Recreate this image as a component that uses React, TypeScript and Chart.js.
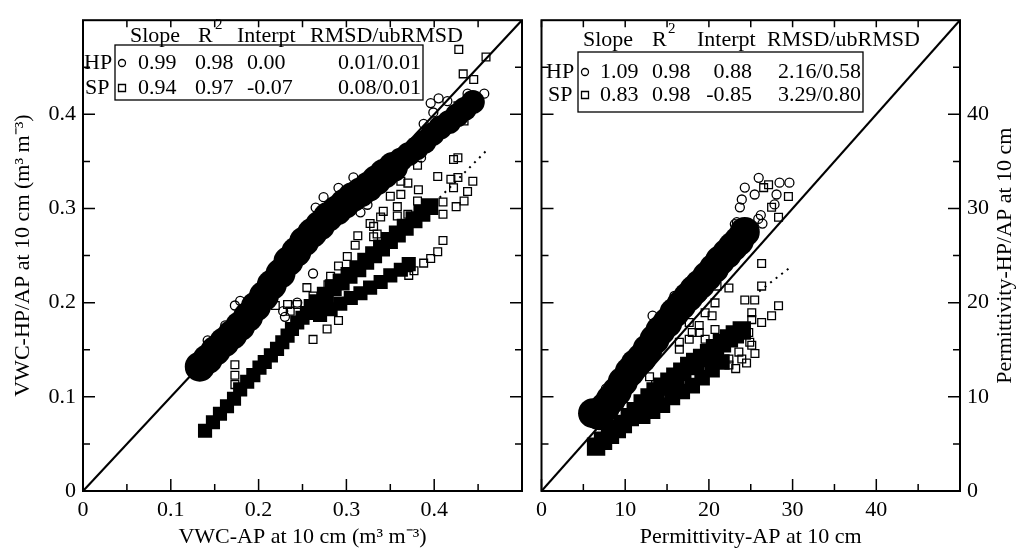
import React, { useEffect, useRef } from "react";
import { Chart, registerables } from "chart.js";
Chart.register(...registerables);

const SERIF = '"Liberation Serif", "Times New Roman", Times, serif';
const FS = 22;

// ---------------- data ----------------
// Left panel: VWC (m3 m-3)
const leftHpDenseLower: [number, number][] = [
  [0.133, 0.132], [0.142, 0.140], [0.151, 0.149], [0.161, 0.158], [0.170, 0.166], [0.179, 0.175],
  [0.188, 0.185], [0.197, 0.196], [0.206, 0.207], [0.215, 0.219], [0.225, 0.231], [0.234, 0.244],
  [0.243, 0.254], [0.252, 0.265], [0.261, 0.274], [0.270, 0.282], [0.279, 0.291], [0.289, 0.298],
  [0.298, 0.305], [0.307, 0.312], [0.316, 0.317], [0.325, 0.323], [0.334, 0.330], [0.343, 0.337],
  [0.353, 0.344],
];
const leftHpDenseUpper: [number, number][] = [
  [0.362, 0.352], [0.371, 0.358], [0.380, 0.364], [0.389, 0.371], [0.398, 0.379],
  [0.407, 0.386], [0.417, 0.392], [0.426, 0.399], [0.435, 0.406], [0.444, 0.413],
];
const leftSpDenseLow: [number, number][] = [
  [0.139, 0.064], [0.148, 0.073], [0.156, 0.082], [0.164, 0.090], [0.172, 0.098], [0.179, 0.108],
  [0.187, 0.116], [0.194, 0.123], [0.201, 0.131], [0.207, 0.137], [0.214, 0.144], [0.221, 0.151],
  [0.227, 0.158], [0.233, 0.165], [0.238, 0.172], [0.244, 0.179], [0.250, 0.184], [0.255, 0.189],
];
const leftSpDenseMid: [number, number][] = [
  [0.261, 0.195], [0.267, 0.200], [0.276, 0.208], [0.285, 0.216], [0.294, 0.222], [0.303, 0.229],
  [0.313, 0.236], [0.322, 0.244], [0.331, 0.251], [0.340, 0.258], [0.349, 0.266], [0.358, 0.273],
  [0.367, 0.280], [0.377, 0.288], [0.386, 0.295], [0.395, 0.302],
];
const leftSpDenseBranch: [number, number][] = [
  [0.270, 0.187], [0.282, 0.193], [0.293, 0.199], [0.305, 0.205], [0.316, 0.210], [0.327, 0.216],
  [0.339, 0.222], [0.350, 0.229], [0.362, 0.235], [0.371, 0.241],
];
const leftHpOpen: [number, number][] = [
  [0.457, 0.422], [0.438, 0.422], [0.415, 0.414], [0.405, 0.417], [0.396, 0.412], [0.399, 0.402],
  [0.388, 0.390], [0.407, 0.391], [0.422, 0.402], [0.442, 0.412], [0.385, 0.354], [0.265, 0.301],
  [0.274, 0.312], [0.291, 0.322], [0.308, 0.333], [0.324, 0.304], [0.316, 0.296], [0.262, 0.231],
  [0.228, 0.249], [0.219, 0.239], [0.162, 0.176], [0.173, 0.197], [0.179, 0.202], [0.142, 0.160],
  [0.244, 0.200], [0.228, 0.191], [0.230, 0.185],
];
const leftSpOpen: [number, number][] = [
  [0.428, 0.469], [0.459, 0.461], [0.433, 0.443], [0.445, 0.437], [0.445, 0.412], [0.427, 0.409],
  [0.434, 0.393], [0.327, 0.284], [0.342, 0.297], [0.350, 0.313], [0.362, 0.315], [0.362, 0.329],
  [0.370, 0.327], [0.382, 0.320], [0.381, 0.346], [0.404, 0.334], [0.422, 0.352], [0.427, 0.354],
  [0.419, 0.331], [0.427, 0.333], [0.422, 0.322], [0.438, 0.318], [0.444, 0.329], [0.434, 0.308],
  [0.425, 0.302], [0.410, 0.307], [0.410, 0.294], [0.358, 0.302], [0.358, 0.292], [0.370, 0.294],
  [0.381, 0.308], [0.339, 0.291], [0.331, 0.281], [0.335, 0.273], [0.313, 0.271], [0.310, 0.261],
  [0.301, 0.249], [0.291, 0.239], [0.279, 0.219], [0.282, 0.228], [0.255, 0.216], [0.262, 0.207],
  [0.244, 0.198], [0.331, 0.270], [0.410, 0.266], [0.404, 0.254], [0.396, 0.247], [0.388, 0.242],
  [0.377, 0.234], [0.371, 0.229], [0.173, 0.134], [0.173, 0.123], [0.173, 0.113], [0.262, 0.161],
  [0.278, 0.172], [0.291, 0.181], [0.210, 0.198], [0.219, 0.197], [0.233, 0.198], [0.236, 0.191],
];
const leftIdentity: [number, number][] = [[0, 0], [0.5, 0.5]];
const leftSpFit: [number, number][] = [[0.395, 0.301], [0.46, 0.362]];

// Right panel: permittivity
const rightHpDense: [number, number][] = [
  [6.16, 8.26], [6.87, 8.05], [7.58, 8.89], [8.29, 9.73], [9.00, 10.56], [9.72, 11.61], [10.55, 12.66],
  [11.26, 13.49], [11.97, 14.12], [12.68, 15.06], [13.51, 16.11], [14.22, 17.05], [15.05, 17.89],
  [15.88, 18.93], [16.71, 19.77], [17.54, 20.61], [18.25, 21.34], [18.96, 21.97], [19.79, 22.80],
  [20.62, 23.64], [21.33, 24.48], [22.16, 25.21], [22.87, 25.94], [23.58, 26.57], [24.29, 27.51],
];
const rightHpDenseEdge: [number, number][] = [
  [19.0, 21.0], [20.0, 22.1], [21.0, 23.2], [22.0, 24.2], [23.0, 25.2], [24.0, 26.2], [25.0, 27.2],
];
const rightSpDense: [number, number][] = [
  [6.52, 4.71], [7.35, 5.33], [8.18, 5.96], [9.00, 6.59], [9.72, 7.11], [10.55, 7.85], [11.26, 8.47],
  [12.09, 9.31], [12.91, 9.94], [13.63, 10.56], [14.45, 11.09], [15.28, 11.61], [15.99, 12.13],
  [16.82, 12.66], [17.65, 13.28], [18.36, 13.70], [19.19, 14.12], [20.02, 14.64], [20.73, 15.17],
  [21.56, 15.69], [22.39, 16.21], [23.10, 16.63], [23.93, 17.05],
];
const rightSpDenseLow: [number, number][] = [
  [12.09, 7.95], [13.27, 8.47], [14.45, 9.10], [15.64, 9.94], [16.82, 10.56], [18.01, 11.19],
  [19.19, 12.03], [20.38, 12.87], [21.56, 13.70],
];
const rightHpOpen: [number, number][] = [
  [25.95, 33.26], [24.29, 32.22], [25.47, 31.49], [23.93, 30.96], [23.70, 30.13], [28.44, 32.74],
  [29.62, 32.74], [28.08, 31.49], [27.84, 30.44], [23.10, 28.35], [24.29, 28.14], [13.27, 18.62],
  [15.88, 20.71], [7.70, 10.88], [6.99, 9.52], [23.34, 28.56], [25.9, 28.9], [26.4, 28.4], [26.2, 29.3],
];
const rightSpOpen: [number, number][] = [
  [27.13, 32.53], [26.54, 32.22], [29.50, 31.28], [27.49, 30.13], [28.32, 29.08], [26.30, 24.16],
  [26.30, 21.76], [22.39, 21.55], [20.97, 21.76], [20.73, 19.98], [24.29, 20.29], [25.47, 20.29],
  [26.30, 17.89], [27.49, 18.62], [28.32, 19.67], [25.12, 18.93], [19.55, 18.93], [18.84, 17.57],
  [18.01, 16.84], [17.65, 16.11], [16.47, 15.06], [25.12, 15.48], [23.93, 14.02], [24.88, 15.79],
  [24.76, 16.84], [23.58, 14.75], [22.39, 14.02], [25.12, 18.20], [20.38, 18.62], [18.84, 16.84],
  [13.63, 11.30], [14.81, 9.83], [17.65, 17.89], [19.55, 16.11], [20.73, 17.15], [16.47, 15.79],
  [12.91, 12.13], [22.39, 13.39], [23.2, 13.0], [24.5, 13.6], [25.5, 14.6],
];
const rightIdentity: [number, number][] = [[0, 0], [50, 50]];
const rightSpFit: [number, number][] = [[26.0, 21.2], [29.5, 23.6]];

// statistics boxes
const seriesNames = ["HP", "SP"];
const statHeaders = ["Slope", "R", "Interpt", "RMSD/ubRMSD"];
const r2Sup = "2";
const leftStatsHP = ["0.99", "0.98", "0.00", "0.01/0.01"];
const leftStatsSP = ["0.94", "0.97", "-0.07", "0.08/0.01"];
const rightStatsHP = ["1.09", "0.98", "0.88", "2.16/0.58"];
const rightStatsSP = ["0.83", "0.98", "-0.85", "3.29/0.80"];

// axes
const leftRange = [0, 0.5];
const leftTicks = [0, 0.1, 0.2, 0.3, 0.4];
const leftTickLabels = ["0", "0.1", "0.2", "0.3", "0.4"];
const leftMinor = [0.05, 0.15, 0.25, 0.35, 0.45];
const rightRange = [0, 50];
const rightTicks = [0, 10, 20, 30, 40];
const rightTickLabels = ["0", "10", "20", "30", "40"];
const rightMinor = [5, 15, 25, 35, 45];
const leftXTitle = "VWC-AP at 10 cm (m\u00B3 m\u207B\u00B3)";
const leftYTitle = "VWC-HP/AP at 10 cm (m\u00B3 m\u207B\u00B3)";
const rightXTitle = "Permittivity-AP at 10 cm";
const rightYTitle = "Permittivity-HP/AP at 10 cm";

// ---------------- helpers ----------------
const pts = (a: [number, number][]) => a.map(([x, y]) => ({ x, y }));

function denseDs(data: [number, number][], style: string, r: number) {
  return {
    data: pts(data), pointStyle: style, pointRadius: r, pointHoverRadius: r,
    pointBackgroundColor: "#000", pointBorderColor: "#000", pointBorderWidth: 0,
    showLine: false, order: 4,
  };
}
function openDs(data: [number, number][], style: string, r: number) {
  return {
    data: pts(data), pointStyle: style, pointRadius: r, pointHoverRadius: r,
    pointBackgroundColor: "rgba(0,0,0,0)", pointBorderColor: "#000", pointBorderWidth: 1.3,
    showLine: false, order: 2,
  };
}
function lineDs(data: [number, number][], dash: number[], width: number, order: number) {
  return {
    data: pts(data), showLine: true, borderColor: "#000", borderWidth: width, borderDash: dash,
    pointRadius: 0, pointHoverRadius: 0, fill: false, order,
  };
}

function xAxis(range: number[], ticks: number[], labels: string[], title: string) {
  return {
    type: "linear", position: "bottom", min: range[0], max: range[1],
    grid: { display: false, drawTicks: false }, border: { display: false },
    afterBuildTicks: (s: any) => { s.ticks = ticks.map((v) => ({ value: v })); },
    afterFit: (s: any) => { s.height = 59; },
    ticks: {
      autoSkip: false, maxRotation: 0, padding: 6, color: "#000",
      font: { family: SERIF, size: FS }, callback: (_v: any, i: number) => labels[i],
    },
    title: { display: true, text: title, color: "#000", font: { family: SERIF, size: FS }, padding: { top: 0, bottom: 0 } },
  };
}
function yAxis(range: number[], ticks: number[], labels: string[], pos: string, width: number, title: string | null) {
  return {
    type: "linear", position: pos, min: range[0], max: range[1],
    grid: { display: false, drawTicks: false }, border: { display: false },
    afterBuildTicks: (s: any) => { s.ticks = ticks.map((v) => ({ value: v })); },
    afterFit: (s: any) => { s.width = width; },
    ticks: {
      autoSkip: false, padding: 7, color: "#000",
      font: { family: SERIF, size: FS }, callback: (_v: any, i: number) => labels[i],
    },
    title: title
      ? { display: true, text: title, color: "#000", font: { family: SERIF, size: FS }, padding: { top: 10, bottom: 0 } }
      : { display: false },
  };
}

type LegendLayout = {
  box: number[]; headY: number; headX: number[]; supX: number; supY: number;
  nameX: number[]; markX: number; rowY: number[]; cells: [number, string][][];
};

function decorPlugin(major: number[], minor: number[], legend: LegendLayout, rows: string[][], sideTitle: any) {
  return {
    id: "decor",
    afterDraw(chart: any) {
      const { ctx, chartArea: a, scales } = chart;
      const xs = scales.x, ys = scales.y;
      ctx.save();
      ctx.strokeStyle = "#000";
      ctx.lineWidth = 2;
      ctx.strokeRect(a.left, a.top, a.right - a.left, a.bottom - a.top);
      ctx.lineWidth = 1.5;
      ctx.beginPath();
      const tick = (vals: number[], len: number, topLen: number) => {
        for (const v of vals) {
          const px = xs.getPixelForValue(v);
          const py = ys.getPixelForValue(v);
          ctx.moveTo(px, a.bottom); ctx.lineTo(px, a.bottom - len);
          ctx.moveTo(px, a.top); ctx.lineTo(px, a.top + topLen);
          ctx.moveTo(a.left, py); ctx.lineTo(a.left + len, py);
          ctx.moveTo(a.right, py); ctx.lineTo(a.right - len, py);
        }
      };
      tick(major, 12, 7);
      tick(minor, 7, 7);
      ctx.stroke();

      // statistics box
      ctx.fillStyle = "#000";
      ctx.lineWidth = 1.3;
      const b = legend.box;
      ctx.strokeRect(b[0], b[1], b[2] - b[0], b[3] - b[1]);
      ctx.font = `${FS}px ${SERIF}`;
      ctx.textBaseline = "middle";
      ctx.textAlign = "left";
      statHeaders.forEach((h, i) => ctx.fillText(h, legend.headX[i], legend.headY));
      ctx.font = `15px ${SERIF}`;
      ctx.fillText(r2Sup, legend.supX, legend.supY);
      rows.forEach((vals, r) => {
        const y = legend.rowY[r];
        ctx.font = `${FS}px ${SERIF}`;
        ctx.textAlign = "left";
        ctx.fillText(seriesNames[r], legend.nameX[r], y);
        ctx.beginPath();
        if (r === 0) ctx.arc(legend.markX, y, 3.5, 0, Math.PI * 2);
        else ctx.rect(legend.markX - 3.5, y - 3.5, 7, 7);
        ctx.stroke();
        vals.forEach((v, i) => {
          const [x, al] = legend.cells[r][i];
          ctx.textAlign = al as CanvasTextAlign;
          ctx.fillText(v, x, y);
        });
      });

      if (sideTitle) {
        ctx.save();
        ctx.translate(sideTitle.x, (a.top + a.bottom) / 2);
        ctx.rotate(-Math.PI / 2);
        ctx.font = `${FS}px ${SERIF}`;
        ctx.textAlign = "center";
        ctx.textBaseline = "middle";
        ctx.fillText(sideTitle.text, 0, 0);
        ctx.restore();
      }
      ctx.restore();
    },
  };
}

const leftLegend: LegendLayout = {
  box: [115, 45, 423, 100], headY: 36, headX: [130, 198, 237, 310], supX: 215, supY: 25,
  nameX: [84, 85], markX: 122, rowY: [63, 88],
  cells: [
    [[138, "left"], [195, "left"], [247, "left"], [421, "right"]],
    [[138, "left"], [195, "left"], [247, "left"], [421, "right"]],
  ],
};
const RO = 530; // right canvas offset
const rightLegend: LegendLayout = {
  box: [578 - RO, 52, 863 - RO, 112], headY: 40, headX: [583 - RO, 652 - RO, 697 - RO, 767 - RO],
  supX: 668 - RO, supY: 29, nameX: [546 - RO, 548 - RO], markX: 585 - RO, rowY: [72, 95],
  cells: [
    [[600 - RO, "left"], [652 - RO, "left"], [752 - RO, "right"], [861 - RO, "right"]],
    [[600 - RO, "left"], [652 - RO, "left"], [752 - RO, "right"], [861 - RO, "right"]],
  ],
};

function baseOptions(padding: any, scales: any) {
  return {
    responsive: false, animation: false, events: [],
    layout: { padding, autoPadding: false },
    plugins: { legend: { display: false }, tooltip: { enabled: false } },
    scales,
  };
}

export default function App() {
  const leftRef = useRef<HTMLCanvasElement>(null);
  const rightRef = useRef<HTMLCanvasElement>(null);

  useEffect(() => {
    const left = new Chart(leftRef.current as HTMLCanvasElement, {
      type: "scatter",
      data: {
        datasets: [
          lineDs(leftSpFit, [2, 5], 2, 6),
          lineDs(leftIdentity, [], 2.2, 1),
          denseDs(leftHpDenseLower, "circle", 15),
          denseDs(leftHpDenseUpper, "circle", 12),
          denseDs(leftSpDenseLow, "rect", 10),
          denseDs(leftSpDenseMid, "rect", 12),
          denseDs(leftSpDenseBranch, "rect", 10),
          openDs(leftHpOpen, "circle", 4.5),
          openDs(leftSpOpen, "rect", 5.5),
        ] as any,
      },
      options: baseOptions({ left: 0, right: 8, top: 13, bottom: 0 }, {
        x: xAxis(leftRange, leftTicks, leftTickLabels, leftXTitle),
        y: yAxis(leftRange, leftTicks, leftTickLabels, "left", 83, leftYTitle),
      }) as any,
      plugins: [decorPlugin(leftTicks, leftMinor, leftLegend, [leftStatsHP, leftStatsSP], null)],
    });

    const right = new Chart(rightRef.current as HTMLCanvasElement, {
      type: "scatter",
      data: {
        datasets: [
          lineDs(rightSpFit, [2, 5], 2, 6),
          lineDs(rightIdentity, [], 2.2, 1),
          denseDs(rightHpDense, "circle", 15),
          denseDs(rightHpDenseEdge, "circle", 8),
          denseDs(rightSpDense, "rect", 13),
          denseDs(rightSpDenseLow, "rect", 11),
          openDs(rightHpOpen, "circle", 4.5),
          openDs(rightSpOpen, "rect", 5.5),
        ] as any,
      },
      options: baseOptions({ left: 8, right: 0, top: 13, bottom: 0 }, {
        x: xAxis(rightRange, rightTicks, rightTickLabels, rightXTitle),
        y: yAxis(rightRange, rightTicks, rightTickLabels, "right", 59, null),
      }) as any,
      plugins: [decorPlugin(rightTicks, rightMinor, rightLegend, [rightStatsHP, rightStatsSP], { x: 1005 - RO, text: rightYTitle })],
    });

    return () => {
      left.destroy();
      right.destroy();
    };
  }, []);

  return (
    <div style={{ position: "fixed", left: 0, top: 0, width: 1019, height: 550, background: "#fff" }}>
      <canvas ref={leftRef} width={530} height={550} style={{ position: "absolute", left: 0, top: 0 }} />
      <canvas ref={rightRef} width={489} height={550} style={{ position: "absolute", left: RO, top: 0 }} />
    </div>
  );
}
